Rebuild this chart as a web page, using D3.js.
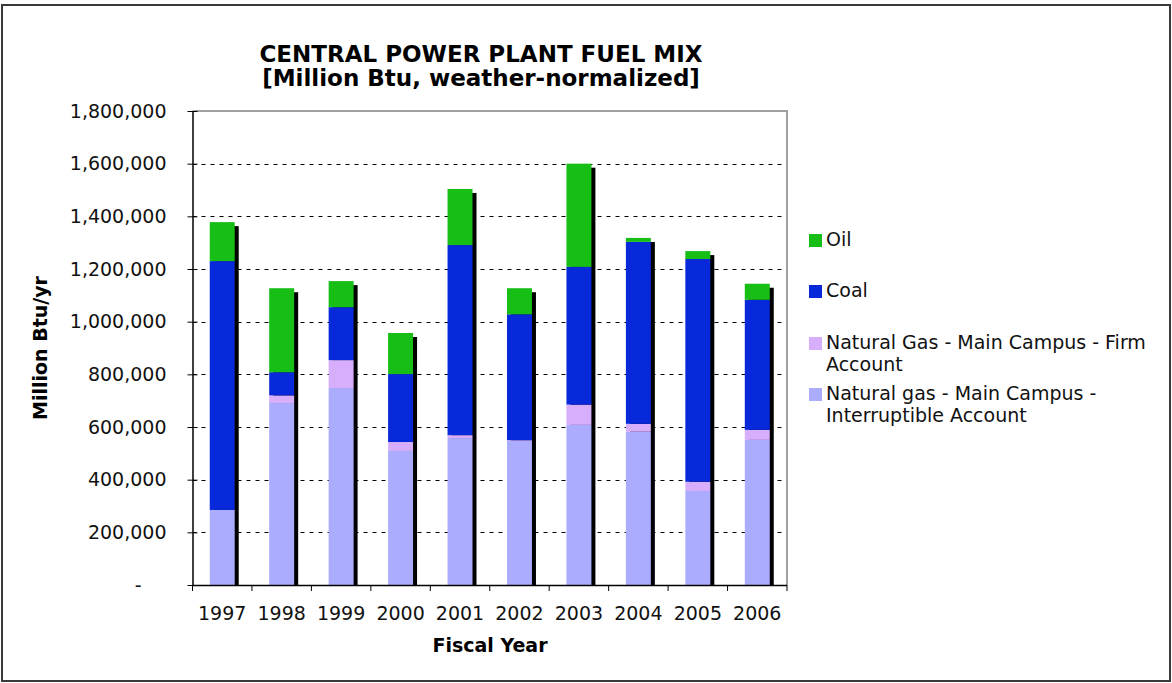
<!DOCTYPE html>
<html>
<head>
<meta charset="utf-8">
<script src="https://cdn.jsdelivr.net/npm/d3@7/dist/d3.min.js"></script>
<style>
  html, body { margin: 0; padding: 0; background: #fff; }
  svg { display: block; font-family: "DejaVu Sans", Verdana, sans-serif; }
</style>
</head>
<body>
<svg id="chart" width="1172" height="683"></svg>
<script>
// ---- Data ----
const years = ["1997","1998","1999","2000","2001","2002","2003","2004","2005","2006"];
const interruptible = [285000, 691000, 748000, 509000, 558000, 547000, 608000, 582000, 357000, 551000];
const firm          = [0,       29000, 106000,  34000,  11000,   3000,  77000,  30000,  35000,  38000];
const coal          = [945000,  88000, 201000, 258000, 722000, 478000, 523000, 691000, 846000, 494000];
const oil           = [148000, 319000,  99000, 156000, 213000,  99000, 392000,  15000,  30000,  61000];
const seriesNames = ["Natural gas - Main Campus - Interruptible Account",
                     "Natural Gas - Main Campus - Firm Account", "Coal", "Oil"];
const seriesKeys = ["interruptible","firm","coal","oil"];
const yTicks = [0, 200000, 400000, 600000, 800000, 1000000, 1200000, 1400000, 1600000, 1800000];
const titleLines = ["CENTRAL POWER PLANT FUEL MIX", "[Million Btu, weather-normalized]"];

const colors = { interruptible: "#abacfd", firm: "#d6aefb", coal: "#0829da", oil: "#16be16" };

const rows = years.map((y, i) => ({ year: y, interruptible: interruptible[i], firm: firm[i], coal: coal[i], oil: oil[i] }));
const stacked = d3.stack().keys(seriesKeys)(rows);

const svg = d3.select("#chart");
const W = 1172, H = 683;
const plot = { left: 192.5, right: 787, top: 111, bottom: 585 };

// outer frame
svg.append("rect").attr("x", 2).attr("y", 5).attr("width", 1168).attr("height", 676)
  .attr("fill", "#fff").attr("stroke", "#3a3a3a").attr("stroke-width", 2);

const x = d3.scaleBand().domain(years).range([plot.left, plot.right]).padding(0);
const y = d3.scaleLinear().domain([0, 1800000]).range([plot.bottom, plot.top]);
const barW = x.bandwidth() * 0.42;
const shadow = 4;

// gridlines
svg.append("g").selectAll("line").data(yTicks.filter(d => d > 0 && d < 1800000)).join("line")
  .attr("x1", plot.left).attr("x2", plot.right)
  .attr("y1", d => Math.round(y(d)) + 0.5).attr("y2", d => Math.round(y(d)) + 0.5)
  .attr("stroke", "#000").attr("stroke-width", 1).attr("stroke-dasharray", "4,5");

// plot border (top & right gray)
svg.append("path")
  .attr("d", `M${plot.left},${plot.top} H${plot.right} V${plot.bottom}`)
  .attr("fill", "none").attr("stroke", "#a0a0a0").attr("stroke-width", 2);

// shadows
const totals = rows.map(r => r.interruptible + r.firm + r.coal + r.oil);
svg.append("g").selectAll("rect").data(rows).join("rect")
  .attr("x", (d) => x(d.year) + (x.bandwidth() - barW) / 2 + shadow)
  .attr("y", (d, i) => y(totals[i]) + shadow)
  .attr("width", barW)
  .attr("height", (d, i) => plot.bottom - y(totals[i]) - shadow)
  .attr("fill", "#000");

// stacked bars
svg.append("g").selectAll("g").data(stacked).join("g")
  .attr("fill", d => colors[d.key])
  .selectAll("rect").data(d => d).join("rect")
  .attr("x", d => x(d.data.year) + (x.bandwidth() - barW) / 2)
  .attr("y", d => y(d[1]))
  .attr("width", barW)
  .attr("height", d => Math.max(0, y(d[0]) - y(d[1])));

// y axis
const yAxis = d3.axisLeft(y).tickValues(yTicks).tickSizeInner(5).tickSizeOuter(0)
  .tickPadding(21)
  .tickFormat(d => d === 0 ? "-" : d3.format(",")(d));
const gy = svg.append("g").attr("transform", `translate(${plot.left},0)`).call(yAxis);
gy.select(".domain").attr("stroke", "#000").attr("stroke-width", 1.5);
gy.selectAll(".tick line").attr("x2", 5).attr("x1", -5).attr("stroke", "#000");
gy.selectAll(".tick text").attr("font-size", "19px").attr("fill", "#111")
  .attr("font-family", "DejaVu Sans, Verdana, sans-serif");
gy.selectAll(".tick text").filter(d => d === 0).attr("dx", "-25");

// x axis
const gx = svg.append("g").attr("transform", `translate(0,${plot.bottom})`);
gx.append("line").attr("x1", plot.left).attr("x2", plot.right).attr("y1", 0.5).attr("y2", 0.5)
  .attr("stroke", "#000").attr("stroke-width", 1.5);
const boundaries = years.map(yr => x(yr)).concat([x(years[years.length - 1]) + x.bandwidth()]);
gx.selectAll("line.tk").data(boundaries).join("line").attr("class", "tk")
  .attr("x1", d => d).attr("x2", d => d).attr("y1", 0).attr("y2", 6)
  .attr("stroke", "#000").attr("stroke-width", 1);
gx.selectAll("text").data(years).join("text")
  .attr("x", d => x(d) + x.bandwidth() / 2).attr("y", 35)
  .attr("text-anchor", "middle").attr("font-size", "19px").attr("fill", "#111")
  .text(d => d);

// titles
svg.append("text").attr("x", 481).attr("y", 62).attr("text-anchor", "middle")
  .attr("font-size", "23px").attr("font-weight", "bold").text(titleLines[0]);
svg.append("text").attr("x", 481).attr("y", 86).attr("text-anchor", "middle")
  .attr("font-size", "23px").attr("font-weight", "bold").text(titleLines[1]);

svg.append("text").attr("x", 490).attr("y", 652).attr("text-anchor", "middle")
  .attr("font-size", "19px").attr("font-weight", "bold").text("Fiscal Year");
svg.append("text").attr("transform", `translate(47,${(plot.top + plot.bottom) / 2}) rotate(-90)`)
  .attr("text-anchor", "middle").attr("font-size", "19px").attr("font-weight", "bold")
  .text("Million Btu/yr");

// legend
const legendItems = [
  { key: "oil", lines: ["Oil"], y: 246 },
  { key: "coal", lines: ["Coal"], y: 297 },
  { key: "firm", lines: ["Natural Gas - Main Campus - Firm", "Account"], y: 349 },
  { key: "interruptible", lines: ["Natural gas - Main Campus -", "Interruptible Account"], y: 400 }
];
const lg = svg.append("g");
legendItems.forEach(it => {
  lg.append("rect").attr("x", 809).attr("y", it.y - 12).attr("width", 13).attr("height", 13)
    .attr("fill", colors[it.key]);
  it.lines.forEach((ln, j) => {
    lg.append("text").attr("x", 826).attr("y", it.y + j * 21.5)
      .attr("font-size", "19px").attr("fill", "#111").text(ln);
  });
});
</script>
</body>
</html>
